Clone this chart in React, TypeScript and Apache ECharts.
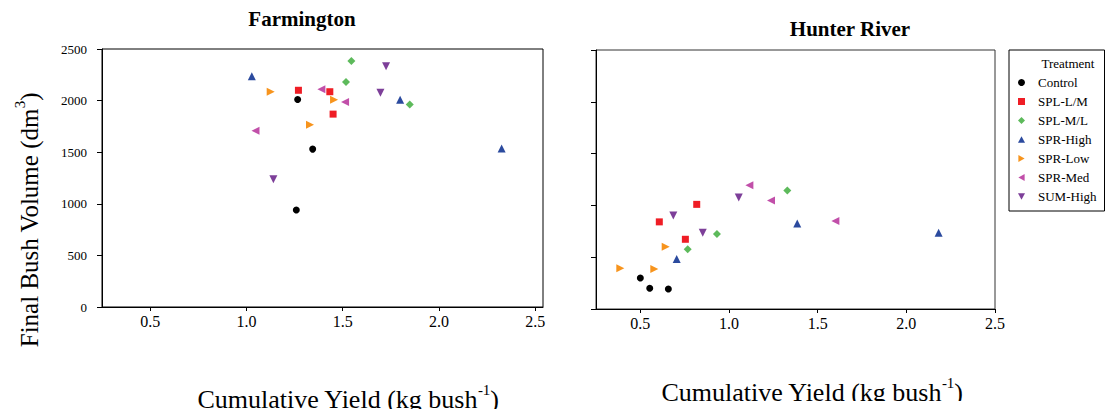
import React, { useEffect, useRef } from "react";
import * as echarts from "echarts";

const treatments = ["Control", "SPL-L/M", "SPL-M/L", "SPR-High", "SPR-Low", "SPR-Med", "SUM-High"];
const colors = ["#000000", "#ef1d25", "#5dba5b", "#2b4a9e", "#f7941d", "#c14fa9", "#7d3f99"];
const symbols = ["circle", "rect", "diamond", "triangle", "triangle", "triangle", "triangle"];
const rotations = [0, 0, 0, 0, -90, 90, 180];
const sizes = [7, 7, 8, 8, 8, 8, 8];
const legendIcons = [
  "circle",
  "rect",
  "diamond",
  "path://M5,0 L10,9 L0,9 Z",
  "path://M0,0 L9,5 L0,10 Z",
  "path://M9,0 L0,5 L9,10 Z",
  "path://M0,0 L10,0 L5,9 Z",
];

// Farmington: [yield kg/bush, volume dm3]
const farmControl = [[1.266, 2010], [1.344, 1530], [1.259, 940]];
const farmSplLM = [[1.27, 2100], [1.433, 2086], [1.45, 1869]];
const farmSplML = [[1.545, 2383], [1.517, 2180], [1.848, 1963]];
const farmSprHigh = [[1.028, 2235], [1.798, 2008], [2.325, 1536]];
const farmSprLow = [[1.126, 2086], [1.455, 2008], [1.33, 1766]];
const farmSprMed = [[1.389, 2109], [1.512, 1986], [1.047, 1708]];
const farmSumHigh = [[1.725, 2332], [1.696, 2076], [1.14, 1239]];

// Hunter River
const hunterControl = [[0.5, 300], [0.553, 200], [0.658, 193]];
const hunterSplLM = [[0.607, 841], [0.818, 1010], [0.754, 673]];
const hunterSplML = [[1.329, 1144], [0.932, 725], [0.767, 577]];
const hunterSprHigh = [[0.705, 483], [1.385, 825], [2.182, 735]];
const hunterSprLow = [[0.387, 393], [0.579, 387], [0.643, 602]];
const hunterSprMed = [[1.115, 1195], [1.237, 1047], [1.6, 850]];
const hunterSumHigh = [[0.686, 902], [1.055, 1076], [0.852, 735]];

const farmData = [farmControl, farmSplLM, farmSplML, farmSprHigh, farmSprLow, farmSprMed, farmSumHigh];
const hunterData = [hunterControl, hunterSplLM, hunterSplML, hunterSprHigh, hunterSprLow, hunterSprMed, hunterSumHigh];

const xTicks = [0.5, 1.0, 1.5, 2.0, 2.5];
const SERIF = '"Liberation Serif", "Times New Roman", serif';

export default function App() {
  const ref = useRef<HTMLDivElement>(null);
  useEffect(() => {
    document.body.style.margin = "0";
    const chart = echarts.init(ref.current!, null, { renderer: "svg" });
    const xAxisBase = (max: number, gridIndex: number) => ({
      type: "value",
      gridIndex,
      min: 0.25,
      max,
      axisLine: { show: true, lineStyle: { color: "#000", width: 1 } },
      axisTick: { show: true, length: 4, customValues: xTicks, lineStyle: { color: "#000" } },
      axisLabel: {
        customValues: xTicks,
        formatter: (v: number) => `{t|${v.toFixed(1)}}`,
        rich: { t: { fontFamily: SERIF, fontSize: 16, color: "#000" } },
        fontFamily: SERIF,
        fontSize: 16,
        color: "#000",
        margin: 6,
      },
      splitLine: { show: false },
    });
    const yAxisBase = (gridIndex: number, showLabels: boolean) => ({
      type: "value",
      gridIndex,
      min: 0,
      max: 2500,
      interval: 500,
      axisLine: { show: true, lineStyle: { color: "#000", width: 1 } },
      axisTick: { show: true, length: 5, lineStyle: { color: "#000" } },
      axisLabel: {
        show: showLabels,
        formatter: (v: number) => `{t|${v}}`,
        rich: { t: { fontFamily: SERIF, fontSize: 13, color: "#000" } },
        fontFamily: SERIF,
        fontSize: 13,
        color: "#000",
        margin: 15,
      },
      splitLine: { show: false },
    });
    const series: any[] = [];
    [farmData, hunterData].forEach((panel, p) => {
      panel.forEach((d, i) => {
        series.push({
          type: "scatter",
          name: treatments[i],
          xAxisIndex: p,
          yAxisIndex: p,
          data: d,
          symbol: symbols[i],
          symbolSize: sizes[i],
          symbolRotate: rotations[i],
          itemStyle: { color: colors[i], opacity: 1 },
        });
      });
    });
    const richLabel = (size: number) => ({
      a: { fontFamily: SERIF, fontSize: size, lineHeight: size + 4, verticalAlign: "bottom" },
      s: { fontFamily: SERIF, fontSize: 15, lineHeight: size + 4, verticalAlign: "top" },
    });
    chart.setOption({
      animation: false,
      backgroundColor: "#fff",
      textStyle: { fontFamily: SERIF },
      grid: [
        { left: 102, top: 49, width: 441, height: 258, show: true, borderColor: "#000", borderWidth: 1 },
        { left: 596, top: 50, width: 399, height: 259, show: true, borderColor: "#333", borderWidth: 1 },
      ],
      xAxis: [xAxisBase(2.54, 0), xAxisBase(2.5, 1)],
      yAxis: [yAxisBase(0, true), yAxisBase(1, false)],
      legend: {
        orient: "vertical",
        left: 1009,
        top: 50,
        padding: [26, 8, 8, 9],
        itemWidth: 7,
        itemHeight: 7,
        itemGap: 6,
        borderColor: "#000",
        borderWidth: 1,
        selectedMode: false,
        data: treatments.map((n, i) => ({ name: n, icon: legendIcons[i] })),
        textStyle: { fontFamily: SERIF, fontSize: 13, color: "#000", lineHeight: 13, padding: [0, 0, 0, 8] },
      },
      graphic: [
        {
          type: "text",
          x: 302,
          y: 19,
          style: { text: "Farmington", font: `bold 21px ${SERIF}`, fill: "#000", align: "center", verticalAlign: "middle" },
        },
        {
          type: "text",
          x: 850,
          y: 29,
          style: { text: "Hunter River", font: `bold 21px ${SERIF}`, fill: "#000", align: "center", verticalAlign: "middle" },
        },
        {
          type: "text",
          x: 1068,
          y: 63,
          style: { text: "Treatment", font: `13px ${SERIF}`, fill: "#000", align: "center", verticalAlign: "middle" },
        },
        {
          type: "text",
          x: 27,
          y: 220,
          rotation: Math.PI / 2,
          style: {
            text: "{a|Final Bush Volume (dm}{s|3}{a|)}",
            align: "center",
            verticalAlign: "middle",
            fill: "#000",
            rich: richLabel(25),
          },
        },
        {
          type: "text",
          x: 348,
          y: 397,
          style: {
            text: "{a|Cumulative Yield (kg bush}{s|-1}{a|)}",
            align: "center",
            verticalAlign: "middle",
            fill: "#000",
            rich: richLabel(26),
          },
        },
        {
          type: "text",
          x: 812,
          y: 390,
          style: {
            text: "{a|Cumulative Yield (kg bush}{s|-1}{a|)}",
            align: "center",
            verticalAlign: "middle",
            fill: "#000",
            rich: richLabel(26),
          },
        },
        { type: "rect", z: 100, shape: { x: 0, y: 409, width: 560, height: 10 }, style: { fill: "#fff" } },
        { type: "rect", z: 100, shape: { x: 560, y: 401, width: 556, height: 20 }, style: { fill: "#fff" } },
      ],
      series,
    });
    return () => chart.dispose();
  }, []);
  return <div ref={ref} style={{ width: 1116, height: 415 }} />;
}
